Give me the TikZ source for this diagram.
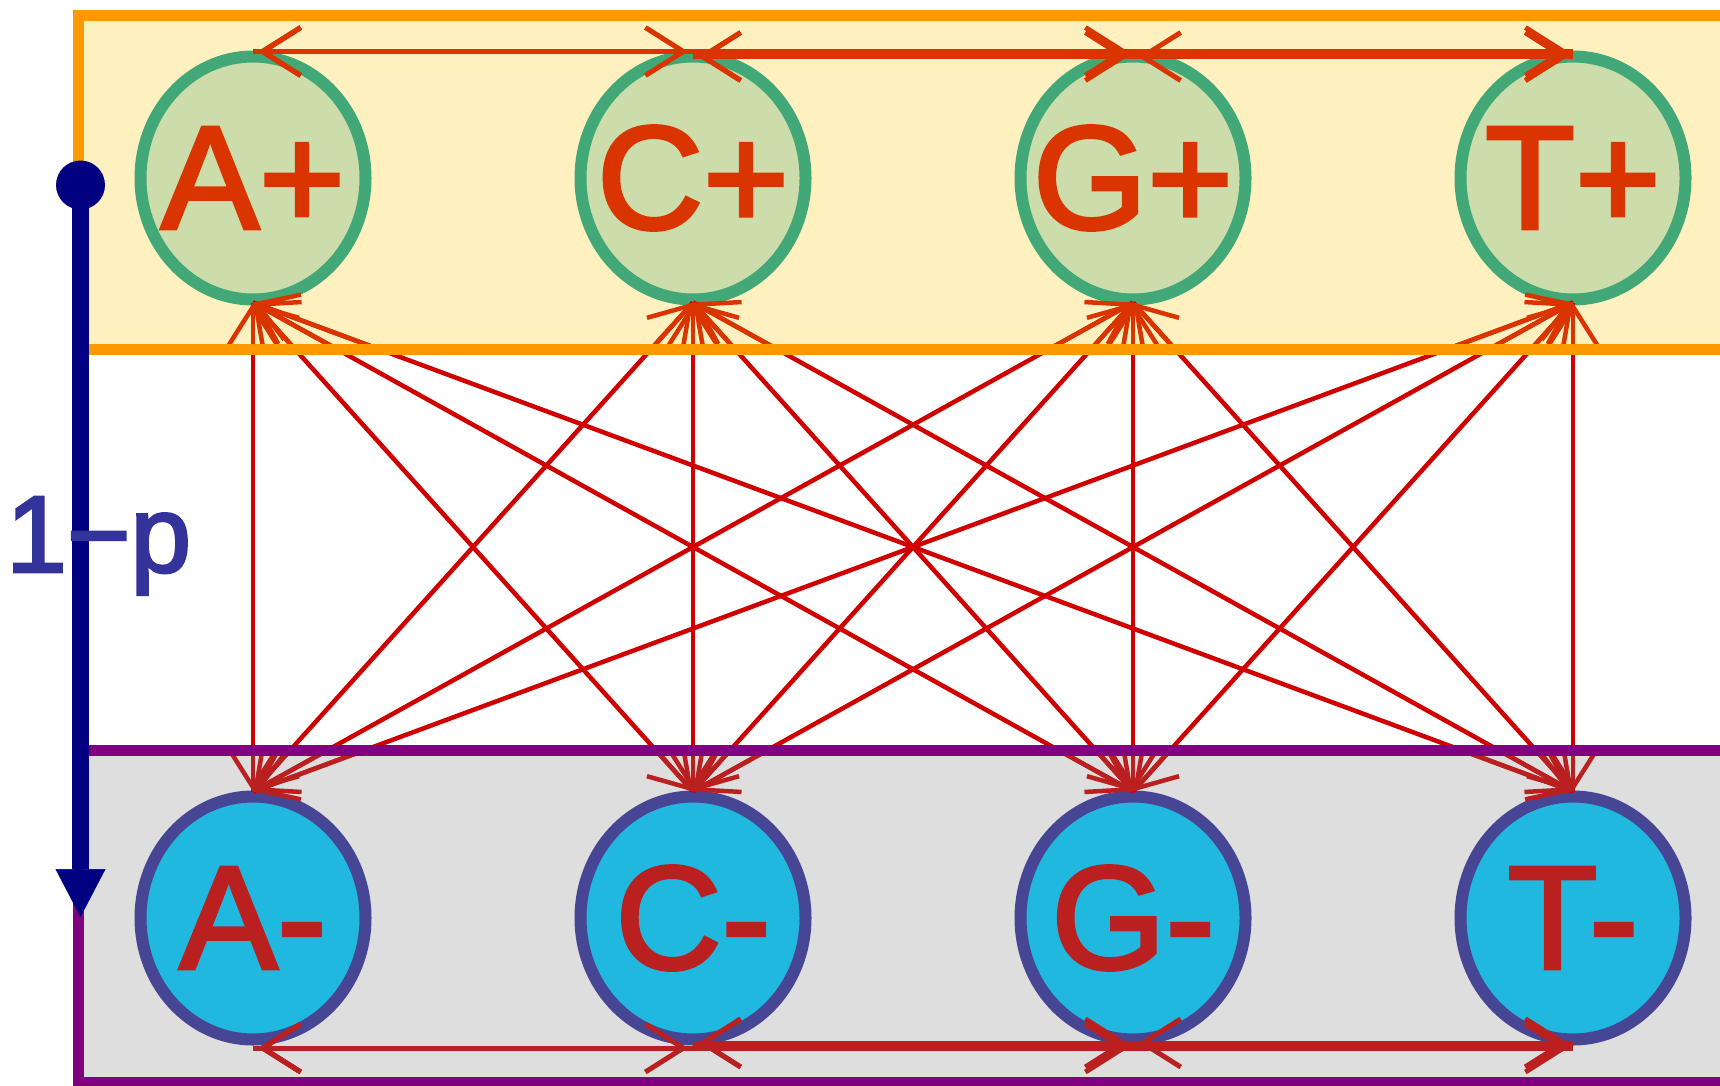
\documentclass[tikz,border=0pt]{standalone}
\usepackage{fontspec}
\newfontfamily\labfont[FakeBold=2.5]{Liberation Sans}
\usetikzlibrary{shapes.geometric,arrows.meta}
\definecolor{bandyellow}{HTML}{FFF0C0}
\definecolor{bandorange}{HTML}{FF9900}
\definecolor{bandgray}{HTML}{DEDEDE}
\definecolor{bandpurple}{HTML}{800080}
\definecolor{topfill}{HTML}{CCDCAA}
\definecolor{topgreen}{HTML}{42A878}
\definecolor{botfill}{HTML}{20B8DF}
\definecolor{botblue}{HTML}{464694}
\definecolor{topred}{HTML}{DA3500}
\definecolor{botred}{HTML}{BA2020}
\definecolor{midred}{HTML}{D00000}
\definecolor{navyc}{HTML}{000080}
\definecolor{labblue}{HTML}{333399}
\tikzset{
  mybarb/.tip={Straight Barb[length=38pt,width=48pt]},
  statenode/.style={ellipse, line width=12pt, minimum width=225pt, minimum height=243pt,
    inner sep=0pt, outer sep=0pt, font=\labfont\bfseries\fontsize{147}{150}\selectfont},
  topnode/.style={statenode, draw=topgreen, fill=topfill, text=topred},
  botnode/.style={statenode, draw=botblue, fill=botfill, text=botred},
  midline/.style={draw=midred, line width=4.5pt},
  toplink/.style={draw=topred, line width=4.5pt, {mybarb}-},
  botlink/.style={draw=botred, line width=4.5pt, -{mybarb}},
  topedge/.style={draw=topred, line width=5pt, -{mybarb}},
  botedge/.style={draw=botred, line width=5pt, -{mybarb}},
  bandborder/.style={line width=11pt},
}
\newcommand{\nodetext}[1]{\makebox[0pt][c]{#1}}
\begin{document}
\begin{tikzpicture}[x=1pt,y=-1pt]
\useasboundingbox (0,0) rectangle (1720,1085);
% band fills
\fill[bandyellow] (78,15.5) rectangle (1720,349.5);
\fill[bandgray] (78,750.5) rectangle (1720,1082);
% nodes
\node[topnode] (Ap) at (253,178) {\nodetext{\mdseries A+}};
\node[topnode] (Cp) at (693,178) {\nodetext{\mdseries C+}};
\node[topnode] (Gp) at (1133,178) {\nodetext{\mdseries G+}};
\node[topnode] (Tp) at (1573,178) {\nodetext{\mdseries T+}};
\node[botnode] (Am) at (253,918) {\nodetext{\mdseries A-}};
\node[botnode] (Cm) at (693,918) {\nodetext{\mdseries C-}};
\node[botnode] (Gm) at (1133,918) {\nodetext{\mdseries G-}};
\node[botnode] (Tm) at (1573,918) {\nodetext{\mdseries T-}};
% crossing connectors
\foreach \s in {Ap,Cp,Gp,Tp}
  \foreach \t in {Am,Cm,Gm,Tm}
    \draw[midline] ([yshift=-3pt]\s.south) -- ([yshift=5pt]\t.north);
\begin{scope}
  \clip (78,15.5) rectangle (1720,349.5);
  \foreach \s in {Ap,Cp,Gp,Tp}
    \foreach \t in {Am,Cm,Gm,Tm}
      \draw[toplink] ([yshift=-3pt]\s.south) -- ([yshift=5pt]\t.north);
\end{scope}
\begin{scope}
  \clip (78,750.5) rectangle (1720,1082);
  \foreach \s in {Ap,Cp,Gp,Tp}
    \foreach \t in {Am,Cm,Gm,Tm}
      \draw[botlink] ([yshift=-3pt]\s.south) -- ([yshift=5pt]\t.north);
\end{scope}
% top row connectors
\foreach \t in {Cp,Gp,Tp}{
  \draw[topedge] ([yshift=5pt]Ap.north) -- ([xshift=-5pt,yshift=5pt]\t.north);
  \draw[topedge] ([yshift=5pt]\t.north) -- ([xshift=5pt,yshift=5pt]Ap.north);
}
\draw[topedge] (Cp.north) -- ([xshift=-5pt]Gp.north);
\draw[topedge] (Cp.north) -- ([xshift=-5pt]Tp.north);
\draw[topedge] (Gp.north) -- ([xshift=-5pt]Tp.north);
\draw[topedge] (Gp.north) -- ([xshift=5pt]Cp.north);
\draw[topedge] (Tp.north) -- ([xshift=5pt]Cp.north);
\draw[topedge] (Tp.north) -- ([xshift=5pt]Gp.north);
% bottom row connectors
\foreach \t in {Cm,Gm,Tm}{
  \draw[botedge] ([yshift=-8.5pt]Am.south) -- ([xshift=-5pt,yshift=-8.5pt]\t.south);
  \draw[botedge] ([yshift=-8.5pt]\t.south) -- ([xshift=5pt,yshift=-8.5pt]Am.south);
}
\draw[botedge] ([yshift=-3.5pt]Cm.south) -- ([xshift=-5pt,yshift=-3.5pt]Gm.south);
\draw[botedge] ([yshift=-3.5pt]Cm.south) -- ([xshift=-5pt,yshift=-3.5pt]Tm.south);
\draw[botedge] ([yshift=-3.5pt]Gm.south) -- ([xshift=-5pt,yshift=-3.5pt]Tm.south);
\draw[botedge] ([yshift=-3.5pt]Gm.south) -- ([xshift=5pt,yshift=-3.5pt]Cm.south);
\draw[botedge] ([yshift=-3.5pt]Tm.south) -- ([xshift=5pt,yshift=-3.5pt]Cm.south);
\draw[botedge] ([yshift=-3.5pt]Tm.south) -- ([xshift=5pt,yshift=-3.5pt]Gm.south);
% band borders
\draw[bandborder, draw=bandorange] (1720,15.5) -- (78,15.5) -- (78,349.5) -- (1720,349.5);
\draw[bandborder, draw=bandpurple] (1720,750.5) -- (78,750.5) -- (78,1082) -- (1720,1082);
% probability arrow
\node[circle, fill=navyc, inner sep=0pt, minimum size=49pt] (dot) at (80.5,185) {};
\coordinate (tip) at (80.5,917);
\draw[navyc, line width=16.5pt, -{Triangle[length=48pt,width=50pt,line width=0.5pt]}] (dot.center) -- (tip);
\node[anchor=base west, inner sep=0pt, text=labblue, font=\labfont\fontsize{109}{110}\selectfont] (lab) at (6,572) {1−p};
\end{tikzpicture}
\end{document}
